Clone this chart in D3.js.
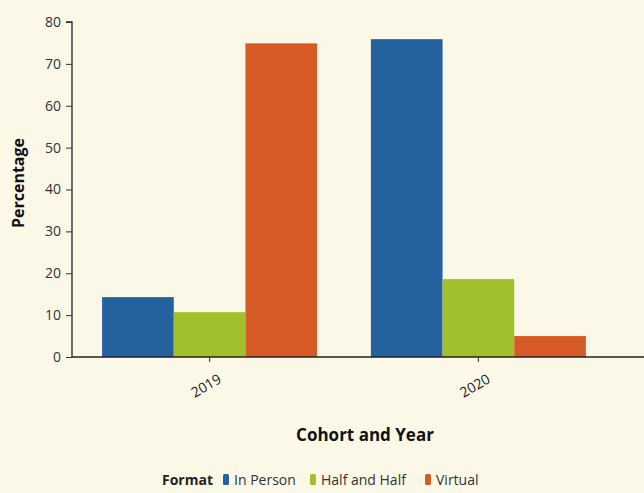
<!DOCTYPE html>
<html>
<head>
<meta charset="utf-8">
<script src="https://cdn.jsdelivr.net/npm/d3@7"></script>
<style>
  html, body { margin: 0; padding: 0; background: #fbf8e8; }
  svg { display: block; }
  text { font-family: "Open Sans", "Noto Sans", sans-serif; }
</style>
</head>
<body>
<svg id="chart" width="644" height="493"></svg>
<script>
// Share of each meeting format, per cohort year
const cohorts = ["2019", "2020"];
const formats = ["In Person", "Half and Half", "Virtual"];
const inPerson = [14.3, 75.9];
const halfAndHalf = [10.7, 18.6];
const virtual = [74.9, 5.0];
const yTicks = [0, 10, 20, 30, 40, 50, 60, 70, 80];

const seriesValues = [inPerson, halfAndHalf, virtual];
const colors = ["#23619f", "#a0c02c", "#d65b26"];

const svg = d3.select("#chart");
const W = 644, H = 493;
svg.append("rect").attr("width", W).attr("height", H).attr("fill", "#fbf8e8");

const plotLeft = 72, plotBottom = 357, plotTop = 22;

const x0 = d3.scaleBand().domain(cohorts).range([plotLeft, 616])
  .paddingInner(0.2).paddingOuter(0.112);
const x1 = d3.scaleBand().domain(formats).range([0, x0.bandwidth()]).padding(0);
const y = d3.scaleLinear().domain([0, 80]).range([plotBottom, plotTop]);
const color = d3.scaleOrdinal().domain(formats).range(colors);

// Bars
const rows = cohorts.map((c, i) => ({
  cohort: c,
  values: formats.map((f, j) => ({ format: f, value: seriesValues[j][i] }))
}));

const g = svg.append("g");
g.selectAll("g.grp").data(rows).join("g")
  .attr("class", "grp")
  .attr("transform", d => `translate(${x0(d.cohort)},0)`)
  .selectAll("rect").data(d => d.values).join("rect")
  .attr("x", d => x1(d.format))
  .attr("width", x1.bandwidth())
  .attr("y", d => y(d.value))
  .attr("height", d => y(0) - y(d.value))
  .attr("fill", d => color(d.format));

// Y axis
const yAxis = svg.append("g")
  .attr("transform", `translate(${plotLeft},0)`)
  .call(d3.axisLeft(y).tickValues(yTicks).tickSize(6).tickPadding(5));
yAxis.select(".domain").attr("stroke", "#222").attr("stroke-width", 1.3)
  .attr("d", `M-6,${y(80)}H0V${y(0)}`);
yAxis.selectAll(".tick line").attr("stroke", "#333");
yAxis.selectAll(".tick text").attr("font-size", 14).attr("fill", "#333");

// X axis
const xAxis = svg.append("g")
  .attr("transform", `translate(0,${plotBottom})`)
  .call(d3.axisBottom(x0).tickSize(5).tickSizeOuter(0));
xAxis.select(".domain").attr("stroke", "#222").attr("stroke-width", 1.3)
  .attr("d", `M${plotLeft},0H${W}`);
xAxis.selectAll(".tick line").attr("stroke", "#333");
xAxis.selectAll(".tick text")
  .attr("font-size", 14).attr("fill", "#222")
  .attr("text-anchor", "middle")
  .attr("dy", null).attr("y", null)
  .attr("transform", "translate(-1,33) rotate(-30)");

// Axis titles
svg.append("text")
  .attr("transform", `translate(24,183) rotate(-90)`)
  .attr("text-anchor", "middle")
  .attr("font-size", 16).attr("font-weight", "bold").attr("fill", "#111")
  .text("Percentage");

svg.append("text")
  .attr("x", 365).attr("y", 441)
  .attr("text-anchor", "middle")
  .attr("font-size", 17).attr("font-weight", "bold").attr("fill", "#111")
  .text("Cohort and Year");

// Legend
const legend = svg.append("g").attr("transform", "translate(0,480)");
legend.append("text")
  .attr("x", 162).attr("y", 5)
  .attr("font-size", 14).attr("font-weight", "bold").attr("fill", "#222")
  .text("Format");

const legendX = [223, 310, 425];
formats.forEach((f, i) => {
  legend.append("rect")
    .attr("x", legendX[i]).attr("y", -6)
    .attr("width", 6).attr("height", 11).attr("rx", 1.5)
    .attr("fill", color(f));
  legend.append("text")
    .attr("x", legendX[i] + 11).attr("y", 5)
    .attr("font-size", 14).attr("fill", "#333")
    .text(f);
});
</script>
</body>
</html>
